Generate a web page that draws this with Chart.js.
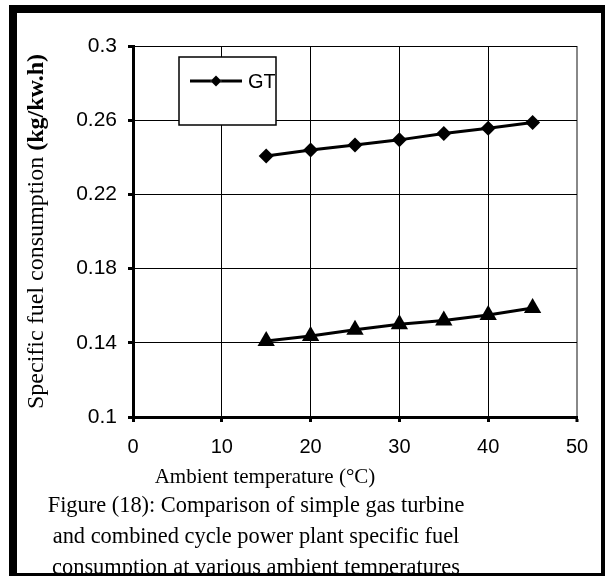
<!DOCTYPE html>
<html>
<head>
<meta charset="utf-8">
<script src="https://cdn.jsdelivr.net/npm/chart.js@4.4.1/dist/chart.umd.min.js"></script>
<style>
  html, body { margin: 0; padding: 0; background: #fff; }
  #wrap { width: 605px; height: 576px; position: relative; }
</style>
</head>
<body>
<div id="wrap"><canvas id="chart" width="605" height="576"></canvas></div>
<script>
// ---- data ----
const temps = [15, 20, 25, 30, 35, 40, 45];
const gtSfc = [0.2407, 0.2439, 0.2466, 0.2494, 0.2528, 0.2556, 0.2588];
const ccSfc = [0.141, 0.1437, 0.147, 0.150, 0.152, 0.155, 0.1588];
const seriesNames = ["GT", "CC"];
const xRange = [0, 50, 10];
const yRange = [0.1, 0.3, 0.04];
const xTitle = "Ambient temperature (\u00B0C)";
const yTitleMain = "Specific fuel consumption ";
const yTitleUnit = "(kg/kw.h)";
const caption = [
  "Figure (18): Comparison of simple gas turbine",
  "and combined cycle power plant specific fuel",
  "consumption at various ambient temperatures",
];

const SERIF = "'Liberation Serif', 'Times New Roman', serif";
const SANS = "'Liberation Sans', Arial, sans-serif";

const toPoints = (ys) => temps.map((t, i) => ({ x: t, y: ys[i] }));

//! ------------------------ extra drawing ------------------------
const figurePlugin = {
  id: "figure",
  afterDraw(chart) {
    const ctx = chart.ctx;
    const area = chart.chartArea;
    ctx.save();

    // legend box (only GT shows, like the source)
    const bx = area.left + 46, by = area.top + 11, bw = 97, bh = 68;
    ctx.fillStyle = "#fff";
    ctx.fillRect(bx, by, bw, bh);
    ctx.strokeStyle = "#000";
    ctx.lineWidth = 1.5;
    ctx.strokeRect(bx, by, bw, bh);
    const gt = chart.data.datasets[0];
    const ly = by + 24;
    ctx.beginPath();
    ctx.moveTo(bx + 11, ly);
    ctx.lineTo(bx + 63, ly);
    ctx.lineWidth = gt.borderWidth;
    ctx.stroke();
    Chart.helpers.drawPoint(ctx, { pointStyle: gt.pointStyle, radius: 5.5, borderWidth: 0 }, bx + 37, ly);
    ctx.fillStyle = "#000";
    ctx.fill();
    ctx.save();
    ctx.beginPath();
    ctx.rect(bx, by, bw - 1, bh);
    ctx.clip();
    ctx.font = "20px " + SANS;
    ctx.textBaseline = "middle";
    ctx.textAlign = "left";
    ctx.fillText(gt.label, bx + 69, ly + 1);
    ctx.restore();

    // y axis title, bold unit
    ctx.save();
    ctx.translate(43, (area.top + area.bottom) / 2);
    ctx.rotate(-Math.PI / 2);
    ctx.font = "23px " + SERIF;
    const w1 = ctx.measureText(yTitleMain).width;
    ctx.font = "bold 23px " + SERIF;
    const w2 = ctx.measureText(yTitleUnit).width;
    const s = 355 / (w1 + w2);
    ctx.scale(s, 1);
    ctx.textBaseline = "alphabetic";
    ctx.textAlign = "left";
    ctx.fillStyle = "#000";
    const x0 = -(w1 + w2) / 2;
    ctx.font = "23px " + SERIF;
    ctx.fillText(yTitleMain, x0, 0);
    ctx.font = "bold 23px " + SERIF;
    ctx.fillText(yTitleUnit, x0 + w1, 0);
    ctx.restore();

    // x axis title + caption
    ctx.fillStyle = "#000";
    ctx.textAlign = "center";
    ctx.textBaseline = "alphabetic";
    ctx.font = "21px " + SERIF;
    ctx.fillText(xTitle, 265, 483);
    ctx.font = "22.4px " + SERIF;
    caption.forEach((line, i) => {
      ctx.fillText(line, 256, 512 + i * 31);
    });

    // outer frame
    ctx.fillStyle = "#000";
    ctx.fillRect(9, 5, 8, 571);
    ctx.fillRect(9, 5, 596, 8);
    ctx.fillRect(601, 5, 4, 571);
    ctx.fillRect(9, 573, 596, 3);
    ctx.restore();
  },
};

const config = {
  type: "line",
  data: {
    datasets: [
      {
        label: seriesNames[0],
        data: toPoints(gtSfc),
        borderColor: "#000",
        backgroundColor: "#000",
        borderWidth: 3,
        pointStyle: "rectRot",
        pointRadius: 7.5,
        pointBorderWidth: 0,
        tension: 0,
      },
      {
        label: seriesNames[1],
        data: toPoints(ccSfc),
        borderColor: "#000",
        backgroundColor: "#000",
        borderWidth: 3,
        pointStyle: "triangle",
        pointRadius: 10,
        pointBorderWidth: 0,
        tension: 0,
      },
    ],
  },
  options: {
    responsive: false,
    animation: false,
    clip: false,
    layout: { padding: { left: 0, top: 46, right: 28, bottom: 0 } },
    plugins: { legend: { display: false }, tooltip: { enabled: false } },
    scales: {
      x: {
        type: "linear",
        min: xRange[0],
        max: xRange[1],
        afterFit: (s) => { s.height = 159; },
        ticks: {
          stepSize: xRange[2],
          color: "#000",
          font: { family: SANS, size: 20 },
          padding: 13,
          maxRotation: 0,
        },
        grid: {
          color: (c) => (c.tick && c.tick.value === xRange[1] ? "#888" : "#000"),
          lineWidth: (c) => (c.tick && c.tick.value === xRange[1] ? 2 : 1),
          tickLength: 5,
          tickWidth: 3,
          tickColor: "#000",
        },
        border: { color: "#000", width: 3 },
      },
      y: {
        min: yRange[0],
        max: yRange[1],
        afterFit: (s) => { s.width = 133; },
        ticks: {
          stepSize: yRange[2],
          color: "#000",
          font: { family: SANS, size: 21 },
          padding: 11,
          callback: (v) => String(Number(v.toFixed(2))),
        },
        grid: {
          color: "#000",
          lineWidth: 1,
          tickLength: 5,
          tickWidth: 3,
          tickColor: "#000",
        },
        border: { color: "#000", width: 3 },
      },
    },
  },
  plugins: [figurePlugin],
};

const myChart = new Chart(document.getElementById("chart"), config);
</script>
</body>
</html>
